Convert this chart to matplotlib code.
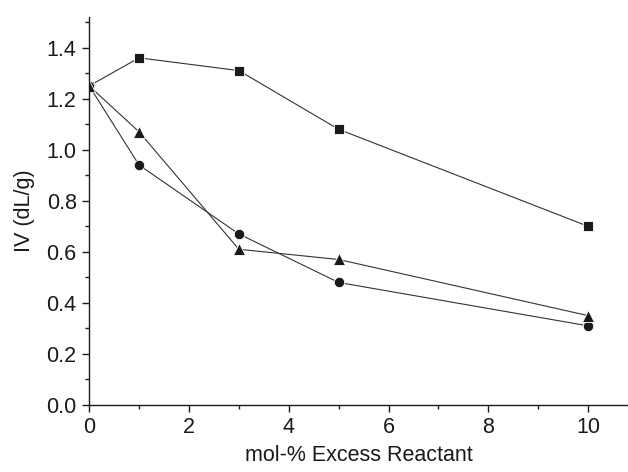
import matplotlib
matplotlib.use("Agg")
import matplotlib.pyplot as plt
from matplotlib.ticker import MultipleLocator

plt.rcParams['font.family'] = ['Liberation Sans', 'DejaVu Sans']

# mol-% excess reactant
x = [0, 1, 3, 5, 10]

# IV (dL/g) for the three series
iv_square = [1.25, 1.36, 1.31, 1.08, 0.70]
iv_triangle = [1.25, 1.07, 0.61, 0.57, 0.35]
iv_circle = [1.25, 0.94, 0.67, 0.48, 0.31]

fig = plt.figure(figsize=(6.28, 4.72), dpi=100)
ax = fig.add_axes([0.142, 0.142, 0.858, 0.822])

ink = '#1a1a1a'
# triangle drawn last: it sits on top at x = 0 in the original
ax.plot(x, iv_square, color='#333333', lw=0.8, marker='s', ms=6.5, mfc=ink, mec='white', mew=0.6)
ax.plot(x, iv_circle, color='#333333', lw=0.8, marker='o', ms=7.5, mfc=ink, mec='white', mew=0.6)
ax.plot(x, iv_triangle, color='#333333', lw=0.8, marker='^', ms=8.5, mfc=ink, mec='white', mew=0.6)

ax.set_xlim(0, 10.8)
ax.set_ylim(0, 1.52)
ax.xaxis.set_major_locator(MultipleLocator(2))
ax.xaxis.set_minor_locator(MultipleLocator(1))
ax.yaxis.set_minor_locator(MultipleLocator(0.1))
ax.set_yticks([0.0, 0.2, 0.4, 0.6, 0.8, 1.0, 1.2, 1.4])
ax.set_yticklabels(['0.0', '0.2', '0.4', '0.6', '0.8', '1.0', '1.2', '1.4'])

for s in ['top', 'right']:
    ax.spines[s].set_visible(False)
for s in ['left', 'bottom']:
    ax.spines[s].set_color(ink)
    ax.spines[s].set_linewidth(1.0)

ax.tick_params(which='major', direction='out', length=5, width=1, color=ink, labelsize=15.5, labelcolor=ink, pad=4)
ax.tick_params(which='minor', direction='out', length=3, width=1, color=ink)
ax.set_xlabel('mol-% Excess Reactant', fontsize=15.5, color=ink, labelpad=5)
ax.set_ylabel('IV (dL/g)', fontsize=15.5, color=ink, labelpad=8)

fig.savefig('out.png', dpi=100)
